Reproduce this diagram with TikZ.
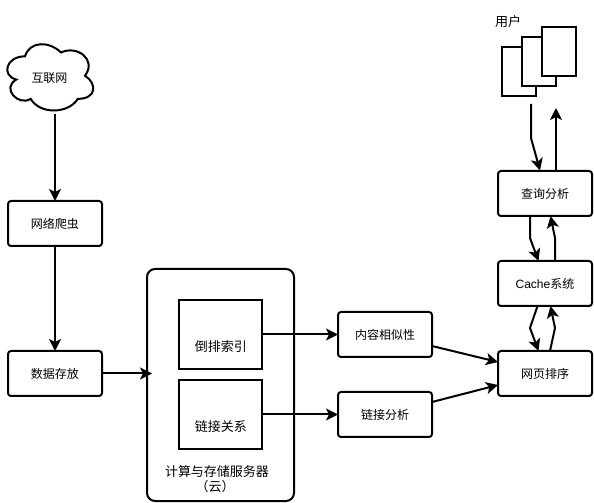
\documentclass[tikz,border=0pt]{standalone}
\usepackage{fontspec}
\setmainfont{Liberation Sans}
\newfontfamily\cjk{Noto Sans CJK SC}
\usetikzlibrary{
    positioning,
    arrows.meta
}
\tikzset{
    mainbox/.style={
        draw,
        line width=1.5pt,
        rounded corners=2.25pt,
        minimum width=70.5pt,
        minimum height=33.75pt,
        outer sep=0pt,
        inner sep=0pt,
        font=\cjk\fontsize{9}{11}\selectfont
    },
    indexbox/.style={
        draw,
        line width=1.5pt,
        minimum width=62.25pt,
        minimum height=51.75pt,
        outer sep=0pt
    },
    userpage/.style={
        draw,
        fill=white,
        line width=1.5pt,
        minimum width=25.5pt,
        minimum height=36.75pt,
        outer sep=0pt
    },
    label/.style={
        inner sep=0pt,
        font=\cjk\fontsize{9}{11}\selectfont
    },
    biglabel/.style={
        inner sep=0pt,
        font=\cjk\fontsize{9.75}{11}\selectfont
    },
    link/.style={
        -{Stealth[length=9pt,width=9pt,inset=2.25pt]},
        line width=1.5pt
    }
}

\begin{document}
\begin{tikzpicture}[
    x=0.75pt,
    y=-0.75pt
]
    \useasboundingbox (0,0) rectangle (594,503);

    % Cloud
    \begin{scope}[shift={(1,37)},x=0.72pt,y=-0.58pt]
        \draw[line width=1.5pt]
            (25,25) .. controls (5,25) and (0,50) .. (16,55)
            .. controls (0,66) and (18,90) .. (31,80)
            .. controls (40,100) and (70,100) .. (80,80)
            .. controls (100,80) and (100,60) .. (87.5,50)
            .. controls (100,30) and (80,10) .. (62.5,20)
            .. controls (50,5) and (30,5) .. (25,25) -- cycle;
    \end{scope}
    \node[label] (internet) at (49.5,78) {互联网};
    \coordinate (cloudout) at (55,114);

    % Left column
    \node[mainbox] (crawler) at (55,223.5) {网络爬虫};
    \node[mainbox] (store)   at (55,373.5) {数据存放};

    % Server
    \node[draw, line width=1.5pt, rounded corners=6pt, outer sep=0pt,
          minimum width=110.25pt, minimum height=174pt] (server) at (220.5,385) {};
    \node[indexbox] (inverted) at (220.5,334.5) {};
    \node[indexbox] (relation) at (220.5,414.5) {};
    \node[biglabel] (invertedtext) at (221,347) {倒排索引};
    \node[biglabel] (relationtext) at (221,427) {链接关系};
    \node[biglabel] (servertext)   at (217,472) {计算与存储服务器};
    \node[biglabel] (cloudtext)    at (215,487) {（云）};
    \coordinate (serverin) at (152,373.5);

    % Analysis
    \node[mainbox] (similar)  at (385,334.5) {内容相似性};
    \node[mainbox] (analysis) at (385,414.5) {链接分析};

    % Right column
    \node[mainbox] (rank)  at (545,373.5) {网页排序};
    \node[mainbox] (cache) at (545,283.5) {{\rmfamily Cache}系统};
    \node[mainbox] (query) at (545,193.5) {查询分析};

    % Users
    \node[userpage] (pagea) at (519,71.5) {};
    \node[userpage] (pageb) at (539,61.5) {};
    \node[userpage] (pagec) at (559,51.5) {};
    \node[biglabel] (users) at (508,22) {用户};

    % Bends
    \coordinate (usersout) at (531,104);
    \coordinate (usersbend) at (531,138);
    \coordinate (usersin) at (556,108);
    \coordinate (querydown) at (530,238);
    \coordinate (queryup) at (555,238);
    \coordinate (cachedown) at (530,328);
    \coordinate (cacheup) at (555,328);

    % Connectors
    \draw[link] (cloudout) -- (crawler);
    \draw[link] (crawler) -- (store);
    \draw[link] (store) -- (serverin);
    \draw[link] (inverted) -- (similar);
    \draw[link] (relation) -- (analysis);
    \draw[link] (similar.east |- 0,346) -- (rank.west |- 0,362);
    \draw[link] (analysis.east |- 0,402) -- (rank.west |- 0,385);

    \draw[link] (usersout) -- (usersbend) -- (540,170.5);
    \draw[link] (usersin |- query.north) -- (usersin);
    \draw[link] (querydown |- query.south) -- (querydown) -- (538.5,261);
    \draw[link] (queryup |- cache.north) -- (queryup) -- (550.5,216);
    \draw[link] (537.5,306) -- (cachedown) -- (538.5,351);
    \draw[link] (550,351) -- (cacheup) -- (550.5,306);

\end{tikzpicture}
\end{document}
